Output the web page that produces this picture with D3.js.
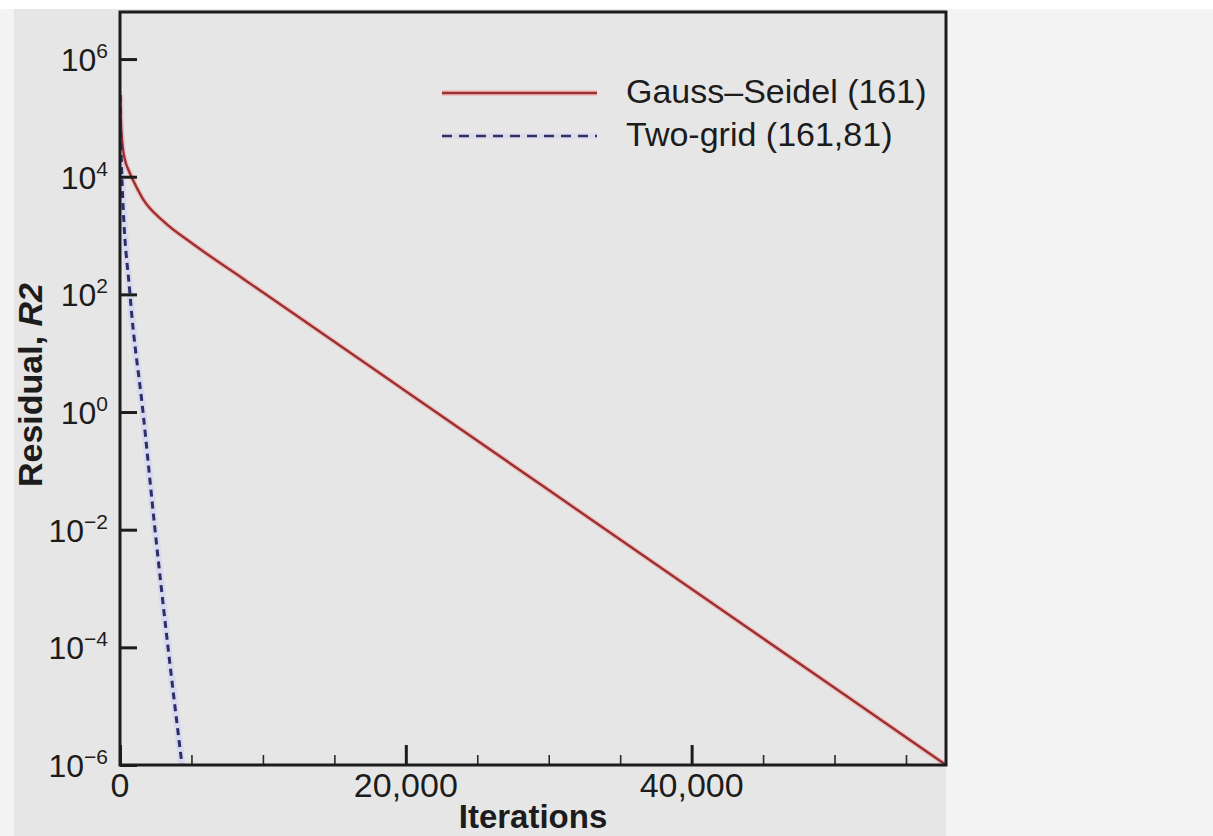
<!DOCTYPE html>
<html>
<head>
<meta charset="utf-8">
<script src="https://cdn.jsdelivr.net/npm/d3@7"></script>
<style>
  html, body { margin: 0; padding: 0; background: #ffffff; }
  svg { display: block; }
  text { font-family: "Liberation Sans", Arial, Helvetica, sans-serif; fill: #1c1c1c; }
</style>
</head>
<body>
<svg id="chart" width="1213" height="836"></svg>
<script>
// Convergence history: residual R2 against iteration count
const iterMajorTicks = [0, 20000, 40000];
const iterMinorTicks = [5000, 10000, 15000, 25000, 30000, 35000, 45000, 50000, 55000];
const residualTicks = [1e-6, 1e-4, 1e-2, 1e0, 1e2, 1e4, 1e6];

const seriesNames = ["Gauss\u2013Seidel (161)", "Two-grid (161,81)"];

const gaussSeidelIter = [0, 70, 175, 350, 595, 910, 1610, 3010, 5110, 8610, 11410, 20000, 30000, 40000, 50000, 57800];
const gaussSeidelRes  = [2.45e5, 7.6e4, 3.46e4, 1.92e4, 1.3e4, 8.8e3, 4.18e3, 1.77e3, 718, 185, 62.7, 2.26, 0.0471, 9.8e-4, 2.05e-5, 1e-6];

const twoGridIter = [0, 120, 700, 1610, 2450, 3360, 4340];
const twoGridRes  = [2.45e5, 1.2e4, 1e2, 1, 1e-2, 1e-4, 1e-6];

const W = 1213, H = 836;
const plot = { left: 120, right: 946, top: 12, bottom: 765 };

const svg = d3.select("#chart");

// page backgrounds
svg.append("rect").attr("x", 0).attr("y", 9).attr("width", W).attr("height", H - 9).attr("fill", "#f4f4f4");
svg.append("rect").attr("x", 14).attr("y", 9).attr("width", plot.right - 14).attr("height", H - 9).attr("fill", "#e6e6e6");

const x = d3.scaleLinear().domain([0, 57800]).range([plot.left, plot.right]);
const y = d3.scaleLog().domain([1e-6, Math.pow(10, 6.8)]).range([plot.bottom, plot.top]);

svg.append("clipPath").attr("id", "plotClip")
  .append("rect")
  .attr("x", plot.left).attr("y", plot.top)
  .attr("width", plot.right - plot.left).attr("height", plot.bottom - plot.top);

const lineGen = d3.line()
  .x(d => x(d[0]))
  .y(d => y(d[1]))
  .curve(d3.curveMonotoneX);

const gsData = gaussSeidelIter.map((v, i) => [v, gaussSeidelRes[i]]);
const tgData = twoGridIter.map((v, i) => [v, twoGridRes[i]]);

const lines = svg.append("g").attr("clip-path", "url(#plotClip)");

// soft halos under the curves
lines.append("path").datum(tgData).attr("d", lineGen)
  .attr("fill", "none").attr("stroke", "#d6d6ee").attr("stroke-width", 7).attr("opacity", 0.9);
lines.append("path").datum(gsData).attr("d", lineGen)
  .attr("fill", "none").attr("stroke", "#f2a0a0").attr("stroke-width", 5).attr("opacity", 0.55);

lines.append("path").datum(gsData).attr("d", lineGen)
  .attr("fill", "none").attr("stroke", "#9c2f2f").attr("stroke-width", 2.4);
lines.append("path").datum(tgData).attr("d", lineGen)
  .attr("fill", "none").attr("stroke", "#2e2e66").attr("stroke-width", 3)
  .attr("stroke-dasharray", "7,5");

// x axis ticks (inward)
const xMajor = d3.axisBottom(x).tickValues(iterMajorTicks).tickSize(-20).tickSizeOuter(0).tickFormat("");
const xMinor = d3.axisBottom(x).tickValues(iterMinorTicks).tickSize(-10).tickSizeOuter(0).tickFormat("");
const gxMinor = svg.append("g").attr("transform", `translate(0,${plot.bottom})`).call(xMinor);
gxMinor.selectAll(".tick line").attr("stroke", "#2a2a2a").attr("stroke-width", 1.6);
const gxMajor = svg.append("g").attr("transform", `translate(0,${plot.bottom})`).call(xMajor);
gxMajor.selectAll(".tick line").attr("stroke", "#1c1c1c").attr("stroke-width", 3);
svg.selectAll(".domain").remove();

svg.append("g").selectAll("text").data(iterMajorTicks).join("text")
  .attr("x", d => x(d)).attr("y", 797)
  .attr("text-anchor", "middle").attr("font-size", 34)
  .text(d => d3.format(",")(d));

// y axis ticks (inward)
const yAxis = d3.axisLeft(y).tickValues(residualTicks).tickSize(-17).tickSizeOuter(0).tickFormat("");
const gy = svg.append("g").attr("transform", `translate(${plot.left},0)`).call(yAxis);
gy.select(".domain").remove();
gy.selectAll(".tick line").attr("stroke", "#1c1c1c").attr("stroke-width", 3);

const yLabels = svg.append("g").selectAll("text").data(residualTicks).join("text")
  .attr("x", 108).attr("y", d => y(d) + 12)
  .attr("text-anchor", "end").attr("font-size", 32);
yLabels.append("tspan").text("10");
yLabels.append("tspan").attr("dy", -13).attr("font-size", 21)
  .text(d => { const e = Math.round(Math.log10(d)); return e < 0 ? "\u2212" + (-e) : String(e); });

// frame
svg.append("rect")
  .attr("x", plot.left).attr("y", plot.top)
  .attr("width", plot.right - plot.left).attr("height", plot.bottom - plot.top)
  .attr("fill", "none").attr("stroke", "#1c1c1c").attr("stroke-width", 3);

// axis titles
svg.append("text")
  .attr("x", (plot.left + plot.right) / 2).attr("y", 828)
  .attr("text-anchor", "middle").attr("font-size", 33).attr("font-weight", "bold")
  .text("Iterations");

const yTitle = svg.append("text")
  .attr("transform", "translate(42,385) rotate(-90)")
  .attr("text-anchor", "middle").attr("font-size", 34).attr("font-weight", "bold");
yTitle.append("tspan").text("Residual, ");
yTitle.append("tspan").attr("font-style", "italic").text("R2");

// legend
const legend = svg.append("g");
const legendRows = [
  { name: seriesNames[0], y: 93, color: "#9c2f2f", halo: "#f2a0a0", dash: null, width: 2.4 },
  { name: seriesNames[1], y: 136, color: "#2e2e66", halo: "#d6d6ee", dash: "10,7", width: 2.6 }
];
legendRows.forEach(r => {
  legend.append("line").attr("x1", 442).attr("x2", 597).attr("y1", r.y).attr("y2", r.y)
    .attr("stroke", r.halo).attr("stroke-width", 6).attr("opacity", 0.5);
  legend.append("line").attr("x1", 442).attr("x2", 597).attr("y1", r.y).attr("y2", r.y)
    .attr("stroke", r.color).attr("stroke-width", r.width)
    .attr("stroke-dasharray", r.dash);
  legend.append("text").attr("x", 626).attr("y", r.y + 10)
    .attr("font-size", 34).text(r.name);
});
</script>
</body>
</html>
